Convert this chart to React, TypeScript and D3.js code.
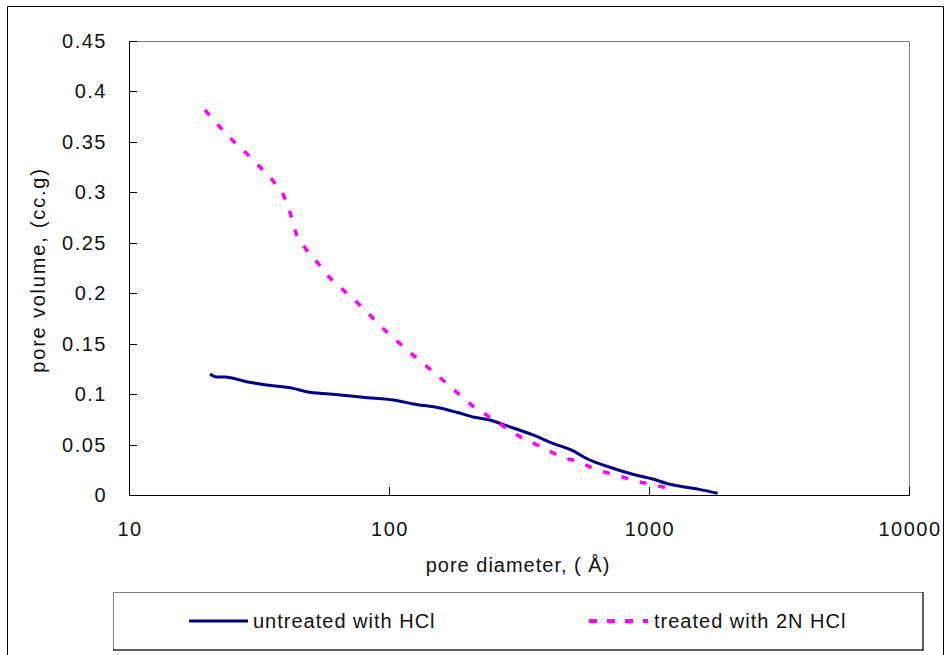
import React from 'react';
import * as d3 from 'd3';

// pore diameter (Å) vs cumulative pore volume (cc/g)
const untreatedDiameter = [20.5, 21.7, 23.4, 28.3, 33.8, 42.8, 48.2, 59.2, 79.4, 108, 124, 152, 182, 213, 244, 283, 358, 427, 509, 581, 726, 866, 1033, 1163, 1348, 1562, 1836];
const untreatedVolume = [0.12, 0.117, 0.117, 0.1123, 0.109, 0.1057, 0.1024, 0.1001, 0.0968, 0.0935, 0.0902, 0.0869, 0.082, 0.077, 0.0743, 0.0687, 0.0595, 0.0512, 0.0439, 0.0357, 0.0265, 0.0205, 0.0159, 0.0116, 0.0082, 0.0056, 0.0017];

const treatedDiameter = [19.6, 22.0, 24.8, 27.9, 31.6, 35.6, 39.4, 41.8, 43.7, 47.7, 53.4, 59.5, 66.6, 77.2, 96.3, 120, 161, 184, 210, 240, 283, 327, 385, 453, 540, 635, 747, 892, 1049, 1234];
const treatedVolume = [0.3816, 0.3667, 0.3525, 0.3402, 0.3261, 0.3122, 0.2963, 0.2785, 0.261, 0.2445, 0.2296, 0.2148, 0.2032, 0.1883, 0.1635, 0.1417, 0.114, 0.1008, 0.0882, 0.0783, 0.0661, 0.0562, 0.0479, 0.0387, 0.0324, 0.0248, 0.0198, 0.0139, 0.0099, 0.0056];

const xTicks = [10, 100, 1000, 10000];
const xTickLabels = ['10', '100', '1000', '10000'];
const yTicks = [0, 0.05, 0.1, 0.15, 0.2, 0.25, 0.3, 0.35, 0.4, 0.45];
const yTickLabels = ['0', '0.05', '0.1', '0.15', '0.2', '0.25', '0.3', '0.35', '0.4', '0.45'];

const seriesNames = ['untreated with HCl', 'treated with 2N HCl'];
const xTitle = 'pore diameter, ( Å)';
const yTitle = 'pore volume, (cc.g)';

const font = '"Liberation Sans", Arial, sans-serif';

const App = () => {
  const W = 948, H = 655;
  const plot = { left: 129, right: 909, top: 41, bottom: 495 };

  const x = d3.scaleLog().domain([10, 10000]).range([plot.left, plot.right]);
  const y = d3.scaleLinear().domain([0, 0.45]).range([plot.bottom, plot.top]);

  const line = d3.line<[number, number]>()
    .x(d => x(d[0]))
    .y(d => y(d[1]))
    .curve(d3.curveMonotoneX);

  const untreated = untreatedDiameter.map((d, i) => [d, untreatedVolume[i]] as [number, number]);
  const treated = treatedDiameter.map((d, i) => [d, treatedVolume[i]] as [number, number]);

  return (
    <svg width={W} height={H} style={{ position: 'absolute', left: 0, top: 0 }}>
      <rect x={0} y={0} width={W} height={H} fill="#fff" />
      {/* outer chart frame */}
      <path d={`M7.5,${H} V6.5 H943.5 V${H}`} fill="none" stroke="#000" strokeWidth={1} />

      {/* plot frame */}
      <line x1={plot.left} x2={plot.right + 0.5} y1={plot.top + 0.5} y2={plot.top + 0.5} stroke="#808080" />
      <line x1={plot.right + 0.5} x2={plot.right + 0.5} y1={plot.top} y2={plot.bottom} stroke="#808080" />
      <line x1={plot.left + 0.5} x2={plot.left + 0.5} y1={plot.top} y2={plot.bottom + 0.5} stroke="#000" />
      <line x1={plot.left} x2={plot.right + 1} y1={plot.bottom + 0.5} y2={plot.bottom + 0.5} stroke="#000" />

      {/* y ticks */}
      {yTicks.map((t, i) => (
        <g key={'y' + i}>
          <line x1={plot.left} x2={plot.left + 8} y1={Math.round(y(t)) + 0.5} y2={Math.round(y(t)) + 0.5} stroke="#000" />
          <text x={107} y={y(t)} textAnchor="end" dominantBaseline="central"
            fontFamily={font} fontSize={20} letterSpacing={1.5} fill="#111">{yTickLabels[i]}</text>
        </g>
      ))}

      {/* x ticks */}
      {xTicks.map((t, i) => (
        <g key={'x' + i}>
          <line x1={Math.round(x(t)) + 0.5} x2={Math.round(x(t)) + 0.5} y1={plot.bottom} y2={plot.bottom - 8} stroke="#000" />
          <text x={x(t) + 1} y={529} textAnchor="middle" dominantBaseline="central"
            fontFamily={font} fontSize={20} letterSpacing={1.5} fill="#111">{xTickLabels[i]}</text>
        </g>
      ))}

      {/* series */}
      <path d={line(untreated) || ''} fill="none" stroke="#000080" strokeWidth={3} strokeLinejoin="round" />
      <path d={line(treated) || ''} fill="none" stroke="#ff00ff" strokeWidth={3.5} strokeDasharray="7 12" />

      {/* axis titles */}
      <text x={518} y={565} textAnchor="middle" dominantBaseline="central"
        fontFamily={font} fontSize={20} letterSpacing={1} fill="#111">{xTitle}</text>
      <text transform={`translate(38,270) rotate(-90)`} textAnchor="middle" dominantBaseline="central"
        fontFamily={font} fontSize={20} letterSpacing={1.8} fill="#111">{yTitle}</text>

      {/* legend */}
      <rect x={113.5} y={592.5} width={809.5} height={57.5} fill="#fff" stroke="#808080" />
      <line x1={113} x2={923.5} y1={650} y2={650} stroke="#000" />
      <line x1={923} x2={923} y1={592} y2={650.5} stroke="#000" />
      <line x1={189} x2={248} y1={621} y2={621} stroke="#000080" strokeWidth={3} />
      <text x={253} y={621} dominantBaseline="central" fontFamily={font} fontSize={20} letterSpacing={1} fill="#111">{seriesNames[0]}</text>
      <line x1={589} x2={648} y1={621} y2={621} stroke="#ff00ff" strokeWidth={4} strokeDasharray="8 10" />
      <text x={654} y={621} dominantBaseline="central" fontFamily={font} fontSize={20} letterSpacing={1} fill="#111">{seriesNames[1]}</text>
    </svg>
  );
};

export default App;
